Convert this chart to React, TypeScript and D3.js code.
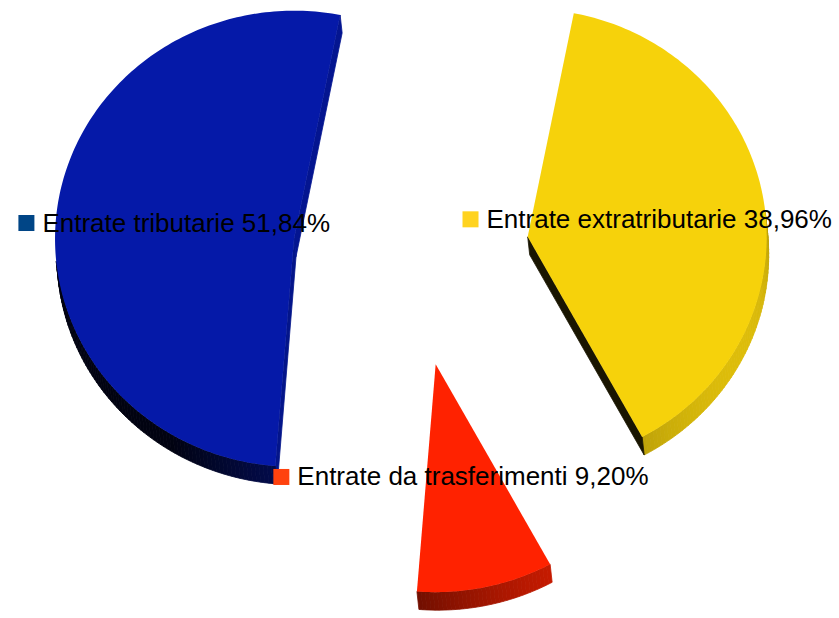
import React from 'react';
import * as d3 from 'd3';

const categories = ['Entrate tributarie', 'Entrate extratributarie', 'Entrate da trasferimenti'];
const values = [51.84, 38.96, 9.2];
const labels = ['Entrate tributarie 51,84%', 'Entrate extratributarie 38,96%', 'Entrate da trasferimenti 9,20%'];
const faceColors = ['#0519a8', '#f6d20b', '#ff2200'];
const legendColors = ['#004586', '#ffd320', '#ff420e'];

const W = 839;
const H = 618;
const CX = 411;
const CY = 254;
const RX = 239;
const RY = 228;
const EXPLODE = 0.494;
const DX = 2;
const DY = 18;
const START = (184.5 * Math.PI) / 180;

function shade(psi: number) {
  const c = Math.cos(((psi - 120) * Math.PI) / 180);
  return 0.1 + 0.8 * Math.max(0, c);
}

export default function App() {
  const ref = React.useRef<SVGSVGElement>(null);
  React.useEffect(() => {
    const svg = d3.select(ref.current);
    svg.selectAll('*').remove();
    const pie = d3
      .pie<number>()
      .sort(null)
      .value((d) => d)
      .startAngle(START)
      .endAngle(START + 2 * Math.PI);
    const arcs = pie(values);
    const proj = (t: number, r = 1): [number, number] => [RX * r * Math.sin(t), -RY * r * Math.cos(t)];
    const line = d3.line();
    const gPie = svg.append('g');
    arcs.forEach((a, i) => {
      const m = (a.startAngle + a.endAngle) / 2;
      const [ex, ey] = proj(m, EXPLODE);
      const ax = CX + ex;
      const ay = CY + ey;
      const n = Math.max(4, Math.ceil(((a.endAngle - a.startAngle) * 180) / Math.PI));
      const pts: [number, number][] = [[ax, ay]];
      for (let k = 0; k <= n; k++) {
        const t = a.startAngle + ((a.endAngle - a.startAngle) * k) / n;
        const [px, py] = proj(t);
        pts.push([ax + px, ay + py]);
      }
      const [ix, iy] = proj(m, 0.5);
      const inx = ax + ix;
      const iny = ay + iy;
      const g = gPie.append('g');
      const base = d3.rgb(faceColors[i]);
      for (let k = 0; k < pts.length; k++) {
        const p = pts[k];
        const q = pts[(k + 1) % pts.length];
        let nx = q[1] - p[1];
        let ny = -(q[0] - p[0]);
        const mx = (p[0] + q[0]) / 2;
        const my = (p[1] + q[1]) / 2;
        if (nx * (mx - inx) + ny * (my - iny) < 0) {
          nx = -nx;
          ny = -ny;
        }
        const len = Math.hypot(nx, ny);
        if (len === 0) continue;
        nx /= len;
        ny /= len;
        if (nx * DX + ny * DY <= 0) continue;
        const psi = (Math.atan2(nx, -ny) * 180) / Math.PI;
        const f = shade(psi);
        const col = d3.rgb(base.r * f, base.g * f, base.b * f).toString();
        g.append('path')
          .attr('d', line([p, q, [q[0] + DX, q[1] + DY], [p[0] + DX, p[1] + DY]]) + 'Z')
          .attr('fill', col)
          .attr('stroke', col)
          .attr('stroke-width', 0.8)
          .attr('stroke-linejoin', 'round');
      }
      g.append('path').attr('d', line(pts) + 'Z').attr('fill', faceColors[i]);
    });

    const gLab = svg.append('g');
    arcs.forEach((a, i) => {
      const m = (a.startAngle + a.endAngle) / 2;
      const [px, py] = proj(m);
      const cx = CX + px;
      const cy = CY + py;
      const t = gLab
        .append('text')
        .attr('font-family', '"Liberation Sans", Arial, sans-serif')
        .attr('font-size', 26)
        .attr('fill', '#000')
        .attr('y', cy + 8.5)
        .text(labels[i]);
      const w = (t.node() as SVGTextElement).getComputedTextLength();
      const x0 = cx - (w + 24) / 2;
      t.attr('x', x0 + 24);
      gLab
        .append('rect')
        .attr('x', x0)
        .attr('y', cy - 8)
        .attr('width', 16)
        .attr('height', 16)
        .attr('fill', legendColors[i])
        .append('title')
        .text(categories[i]);
    });
  }, []);
  return (
    <svg
      ref={ref}
      width={W}
      height={H}
      style={{ position: 'absolute', left: 0, top: 0, background: '#fff' }}
    />
  );
}
